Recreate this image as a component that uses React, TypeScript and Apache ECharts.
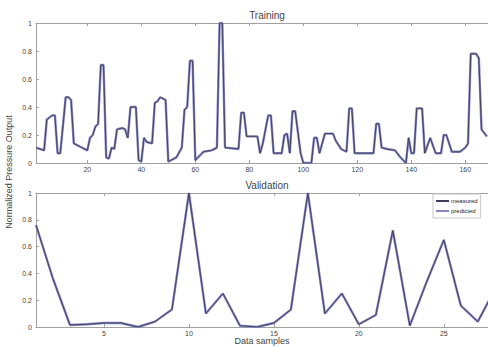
import React, { useEffect, useRef } from "react";
import * as echarts from "echarts";

const trainX = [1, 4, 5, 7, 8, 9, 10, 12, 13, 14, 15, 17, 20, 21, 22, 23, 24, 25, 26, 27, 28, 29, 30, 31, 33, 34, 35, 36, 38, 39, 40, 41, 42, 44, 45, 46, 47, 49, 50, 51, 53, 55, 56, 57, 58, 59, 60, 62, 63, 66, 68, 69, 70, 71, 76, 77, 78, 79, 83, 84, 85, 87, 88, 89, 92, 93, 94, 95, 96, 97, 99, 100, 103, 104, 105, 106, 108, 111, 112, 114, 116, 117, 118, 119, 126, 127, 128, 129, 131, 134, 136, 138, 139, 140, 141, 142, 144, 145, 147, 149, 151, 152, 153, 155, 158, 160, 161, 162, 164, 165, 166, 168];
const trainY = [0.11, 0.09, 0.31, 0.34, 0.34, 0.07, 0.07, 0.47, 0.47, 0.45, 0.14, 0.12, 0.09, 0.18, 0.2, 0.26, 0.28, 0.7, 0.7, 0.04, 0.03, 0.11, 0.1, 0.24, 0.25, 0.24, 0.18, 0.4, 0.4, 0.02, 0.01, 0.18, 0.15, 0.14, 0.43, 0.44, 0.47, 0.45, 0.01, 0.02, 0.04, 0.11, 0.38, 0.4, 0.73, 0.73, 0.02, 0.06, 0.08, 0.09, 0.11, 1.0, 1.0, 0.11, 0.1, 0.36, 0.36, 0.19, 0.19, 0.07, 0.14, 0.34, 0.34, 0.07, 0.07, 0.2, 0.21, 0.07, 0.37, 0.37, 0.07, 0.0, 0.0, 0.18, 0.18, 0.07, 0.21, 0.21, 0.16, 0.1, 0.08, 0.39, 0.39, 0.07, 0.07, 0.28, 0.28, 0.11, 0.1, 0.09, 0.04, 0.0, 0.18, 0.07, 0.07, 0.39, 0.39, 0.07, 0.18, 0.07, 0.07, 0.2, 0.2, 0.08, 0.08, 0.11, 0.14, 0.78, 0.78, 0.75, 0.24, 0.19];

const valX = [1, 2, 3, 4, 5, 6, 7, 8, 9, 10, 11, 12, 13, 14, 15, 16, 17, 18, 19, 20, 21, 22, 23, 24, 25, 26, 27, 28];
const valY = [0.76, 0.36, 0.015, 0.02, 0.03, 0.03, 0.0, 0.04, 0.13, 1.0, 0.1, 0.25, 0.01, 0.0, 0.03, 0.13, 1.0, 0.1, 0.25, 0.02, 0.09, 0.72, 0.01, 0.34, 0.65, 0.16, 0.04, 0.28];

const trainTicks = [20, 40, 60, 80, 100, 120, 140, 160];
const valTicks = [5, 10, 15, 20, 25];
const yTicks = [0, 0.2, 0.4, 0.6, 0.8, 1];

const measuredColor = "#3c3c58";
const predictedColor = "#8585c2";
const axisColor = "#a0a0a0";
const textColor = "#444444";
const font = "Liberation Sans";

function pairs(xs: number[], ys: number[]) {
  return xs.map((x, i) => [x, ys[i]]);
}

function xAxisFor(gridIndex: number, max: number, ticks: number[], pos: "bottom" | "top") {
  return {
    type: "value",
    gridIndex,
    position: pos,
    min: 1,
    max,
    axisLine: { show: true, onZero: false, lineStyle: { color: axisColor, width: 1 } },
    axisTick: { show: true, inside: true, length: 3, customValues: ticks, lineStyle: { color: axisColor } },
    axisLabel: {
      show: pos === "bottom",
      customValues: ticks,
      fontSize: 7,
      color: textColor,
      fontFamily: font,
      margin: 3,
    },
    splitLine: { show: false },
  };
}

function yAxisFor(gridIndex: number) {
  return {
    type: "value",
    gridIndex,
    min: 0,
    max: 1,
    interval: 0.2,
    axisLine: { show: true, lineStyle: { color: axisColor, width: 1 } },
    axisTick: { show: true, inside: true, length: 3, customValues: yTicks, lineStyle: { color: axisColor } },
    axisLabel: { fontSize: 7, color: textColor, fontFamily: font, margin: 4 },
    splitLine: { show: false },
  };
}

export default function App() {
  const ref = useRef<HTMLDivElement>(null);
  useEffect(() => {
    const chart = echarts.init(ref.current!, null, { renderer: "svg" });
    const trainData = pairs(trainX, trainY);
    const valData = pairs(valX, valY);
    chart.setOption({
      animation: false,
      backgroundColor: "#ffffff",
      title: [
        { text: "Training", left: 262, top: 5, textAlign: "center", textStyle: { fontSize: 10, fontWeight: "normal", color: textColor, fontFamily: font } },
        { text: "Validation", left: 262, top: 175, textAlign: "center", textStyle: { fontSize: 10, fontWeight: "normal", color: textColor, fontFamily: font } },
      ],
      grid: [
        { left: 36, top: 23, right: 0, height: 140 },
        { left: 36, top: 193, right: 0, height: 134 },
      ],
      xAxis: [
        xAxisFor(0, 168.4, trainTicks, "bottom"),
        xAxisFor(1, 27.6, valTicks, "bottom"),
        xAxisFor(0, 168.4, trainTicks, "top"),
        xAxisFor(1, 27.6, valTicks, "top"),
      ],
      yAxis: [yAxisFor(0), yAxisFor(1)],
      legend: {
        data: ["measured", "predicted"],
        orient: "vertical",
        left: 433,
        top: 194,
        icon: "rect",
        itemWidth: 13,
        itemHeight: 2,
        itemGap: 4,
        padding: [4, 3, 4, 3],
        borderColor: "#c8c8c8",
        borderWidth: 1,
        backgroundColor: "#ffffff",
        textStyle: { fontSize: 6, color: "#222", fontFamily: font, padding: [0, 0, 0, -3] },
      },
      graphic: [
        {
          type: "text",
          x: 9,
          y: 172,
          rotation: Math.PI / 2,
          style: {
            text: "Normalized Pressure Output",
            fontSize: 9,
            fill: textColor,
            fontFamily: font,
            align: "center",
            verticalAlign: "middle",
          },
        },
        {
          type: "text",
          x: 262,
          y: 341,
          style: {
            text: "Data samples",
            fontSize: 9,
            fill: textColor,
            fontFamily: font,
            align: "center",
            verticalAlign: "middle",
          },
        },
      ],
      series: [
        { name: "measured", type: "line", xAxisIndex: 0, yAxisIndex: 0, data: trainData, showSymbol: false, z: 4, lineStyle: { color: measuredColor, width: 0.9 }, itemStyle: { color: measuredColor } },
        { name: "predicted", type: "line", xAxisIndex: 0, yAxisIndex: 0, data: trainData, showSymbol: false, z: 3, lineStyle: { color: predictedColor, width: 2.4 }, itemStyle: { color: predictedColor } },
        { name: "measured", type: "line", xAxisIndex: 1, yAxisIndex: 1, data: valData, showSymbol: false, z: 4, lineStyle: { color: measuredColor, width: 0.9 }, itemStyle: { color: measuredColor } },
        { name: "predicted", type: "line", xAxisIndex: 1, yAxisIndex: 1, data: valData, showSymbol: false, z: 3, lineStyle: { color: predictedColor, width: 2.4 }, itemStyle: { color: predictedColor } },
      ],
    });
    return () => chart.dispose();
  }, []);
  return <div ref={ref} style={{ width: 488, height: 348, position: "absolute", left: 0, top: 0 }} />;
}
